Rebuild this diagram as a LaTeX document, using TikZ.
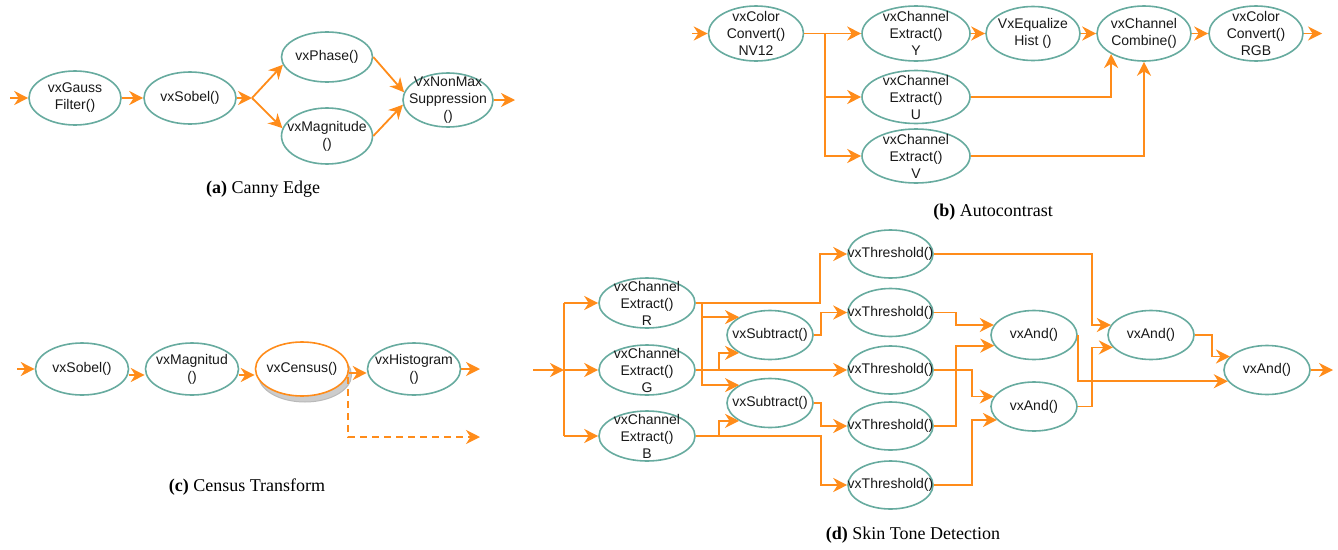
\documentclass[tikz,border=0pt]{standalone}
\usepackage{fontspec}
\setmainfont{Liberation Serif}
\newfontfamily\arialf{Liberation Sans}
\usetikzlibrary{shapes.geometric,arrows.meta,calc}
\definecolor{tealc}{HTML}{67AB9F}
\definecolor{orangec}{HTML}{FF8C1A}
\tikzset{
  el/.style={ellipse, draw=tealc, fill=white, line width=1.6pt, inner xsep=-30pt, inner ysep=-15pt,
    align=center, font=\arialf\fontsize{14}{17}\selectfont, text=black!90},
  ln/.style={draw=orangec, line width=1.8pt},
  arr/.style={ln, -{Stealth[length=14pt,width=14pt,inset=4.5pt]}},
  captxt/.style={font=\fontsize{18}{22}\selectfont, inner sep=0pt},
}
\begin{document}
\begin{tikzpicture}[x=1pt,y=-1pt]
\useasboundingbox (0,0) rectangle (1338,549);

% ---------- (a) Canny Edge ----------
\coordinate (ina) at (10,98);
\node[el, minimum width=92pt, minimum height=54pt] (gauss) at (75,98) {vxGauss\\Filter()};
\node[el, minimum width=92pt, minimum height=52pt] (sobela) at (190,98) {vxSobel()};
\node[el, minimum width=91pt, minimum height=50pt] (phase) at (327,57) {vxPhase()};
\node[el, minimum width=91pt, minimum height=56pt] (magn) at (327,136) {vxMagnitude\\()};
\node[el, minimum width=90pt, minimum height=54pt] (nonmax) at (448,100) {VxNonMax\\Suppression\\()};
\coordinate (bra) at (252,98);
\coordinate (outa) at (515,100);
\draw[arr] (ina) -- (gauss);
\draw[arr] (gauss) -- (sobela);
\draw[arr] (sobela) -- (bra);
\draw[arr] (bra) -- (phase.190);
\draw[arr] (bra) -- (magn.170);
\draw[arr] (phase.east) -- (nonmax.170);
\draw[arr] (magn.east) -- (nonmax.186);
\draw[arr] (nonmax) -- (outa);
\node[captxt] (capa) at (263,189) {\textbf{(a)} Canny Edge};

% ---------- (b) Autocontrast ----------
\coordinate (inb) at (692,33.5);
\node[el, minimum width=95pt, minimum height=55pt] (nv12) at (756,33.5) {vxColor\\Convert()\\NV12};
\node[el, minimum width=108pt, minimum height=55pt] (ychan) at (916,33.5) {vxChannel\\Extract()\\Y};
\node[el, minimum width=94pt, minimum height=54pt] (eq) at (1033,33.5) {VxEqualize\\Hist ()};
\node[el, minimum width=94pt, minimum height=55pt] (comb) at (1144,33.5) {vxChannel\\Combine()};
\node[el, minimum width=94pt, minimum height=55pt] (rgb) at (1256,33.5) {vxColor\\Convert()\\RGB};
\node[el, minimum width=108pt, minimum height=53pt] (uchan) at (916,97) {vxChannel\\Extract()\\U};
\node[el, minimum width=108pt, minimum height=54pt] (vchan) at (916,156) {vxChannel\\Extract()\\V};
\coordinate (brb) at (825,33.5);
\coordinate (outb) at (1322,33.5);
\draw[arr] (inb) -- (nv12);
\draw[arr] (nv12) -- (ychan);
\draw[arr] (brb) |- (uchan);
\draw[arr] (brb) |- (vchan);
\draw[arr] (ychan) -- (eq);
\draw[arr] (eq) -- (comb);
\draw[arr] (comb) -- (rgb);
\draw[arr] (rgb) -- (outb);
\draw[arr] (uchan) -| (comb.212);
\draw[arr] (vchan) -| (comb);
\node[captxt] (capb) at (993,212) {\textbf{(b)} Autocontrast};

% ---------- (c) Census Transform ----------
\coordinate (inc) at (17,369);
\node[el, minimum width=93pt, minimum height=52pt] (sobc) at (82,369) {vxSobel()};
\node[el, minimum width=93pt, minimum height=52pt] (magc) at (192,369) {vxMagnitud\\()};
\node[ellipse, fill=gray!40, draw=gray!55, line width=1pt, minimum width=93pt, minimum height=54pt, inner sep=0pt] (censh) at (305,375) {};
\node[el, draw=orangec, minimum width=93pt, minimum height=54pt] (cen) at (302,369) {vxCensus()};
\node[el, minimum width=93pt, minimum height=52pt] (hist) at (414,369) {vxHistogram\\()};
\coordinate (outc) at (480,369);
\coordinate (outc2) at (480,437);
\draw[arr] (inc) -- (sobc);
\draw[arr] ([yshift=-6pt]sobc.east) -- ([yshift=-6pt]magc.west);
\draw[arr] ([yshift=-6pt]magc.east) -- ([yshift=-6pt]cen.west);
\draw[arr] ([yshift=-4pt]cen.east) -- ([yshift=-4pt]hist.west);
\draw[arr] (hist) -- (outc);
\draw[arr, dash pattern=on 7pt off 5pt] ([yshift=-8pt,xshift=-1pt]cen.east) |- (outc2);
\node[captxt] (capc) at (247,487) {\textbf{(c)} Census Transform};

% ---------- (d) Skin Tone Detection ----------
\coordinate (ind) at (533,370);
\coordinate (brd) at (564,370);
\node[el, minimum width=96pt, minimum height=50pt] (exr) at (647,303) {vxChannel\\Extract()\\R};
\node[el, minimum width=96pt, minimum height=50pt] (exg) at (647,370) {vxChannel\\Extract()\\G};
\node[el, minimum width=96pt, minimum height=50pt] (exb) at (647,436) {vxChannel\\Extract()\\B};
\node[el, minimum width=86pt, minimum height=49pt] (s1) at (770,335) {vxSubtract()};
\node[el, minimum width=86pt, minimum height=49pt] (s2) at (770,403) {vxSubtract()};
\node[el, minimum width=85pt, minimum height=48pt] (t1) at (890.5,254) {vxThreshold()};
\node[el, minimum width=85pt, minimum height=48pt] (t2) at (890.5,312.5) {vxThreshold()};
\node[el, minimum width=85pt, minimum height=48pt] (t3) at (890.5,370) {vxThreshold()};
\node[el, minimum width=85pt, minimum height=48pt] (t4) at (890.5,426) {vxThreshold()};
\node[el, minimum width=85pt, minimum height=48pt] (t5) at (890.5,485) {vxThreshold()};
\node[el, minimum width=86pt, minimum height=49pt] (a1) at (1034,335) {vxAnd()};
\node[el, minimum width=86pt, minimum height=49pt] (a2) at (1034,406.5) {vxAnd()};
\node[el, minimum width=86pt, minimum height=49pt] (a3) at (1151,335) {vxAnd()};
\node[el, minimum width=86pt, minimum height=49pt] (a4) at (1267,370) {vxAnd()};
\coordinate (outd) at (1333,370);
\coordinate (rbus) at (702,303);
\coordinate (gbus) at (719,370);
\coordinate (bbus) at (719,436);
\coordinate (bt) at (821,436);

\draw[arr] (ind) -- (brd);
\draw[ln] (brd |- exr) -- (brd |- exb);
\draw[arr] (brd |- exr) -- (exr);
\draw[arr] (brd) -- (exg);
\draw[arr] (brd |- exb) -- (exb);
\draw[arr] (exr.east) -| ([xshift=-27pt]t1.west) -- (t1.west);
\draw[arr] (exr.east) -- (rbus) |- (s1.150);
\draw[arr] (rbus) |- (s2.150);
\draw[arr] (exg) -- (t3);
\draw[arr] (gbus) |- (s1.210);
\draw[arr] (exb) -- (bt) |- (t5);
\draw[arr] (bbus) |- (s2.210);
\draw[arr] (s1.east) -| ([xshift=-26pt]t2.west) -- (t2.west);
\draw[arr] (s2.east) -| ([xshift=-26pt]t4.west) -- (t4.west);
\draw[arr] (t1.east) -| ([xshift=-19pt]a3.166) -- (a3.166);
\draw[arr] (t2.east) -| ([xshift=-38pt]a1.166) -- (a1.166);
\draw[arr] (t3.east) -| ([xshift=-22pt]a2.166) -- (a2.166);
\draw[arr] (t4.east) -| ([xshift=-38pt]a1.195) -- (a1.195);
\draw[arr] (t5.east) -| ([xshift=-25pt]a2.200) -- (a2.200);
\draw[arr] (a1.east) |- (a4.196);
\draw[arr] (a2.east) -| ([xshift=-21pt]a3.198) -- (a3.198);
\draw[arr] (a3.east) -| ([xshift=-18pt]a4.160) -- (a4.160);
\draw[arr] (a4) -- (outd);
\node[captxt] (capd) at (913,535) {\textbf{(d)} Skin Tone Detection};
\end{tikzpicture}
\end{document}
